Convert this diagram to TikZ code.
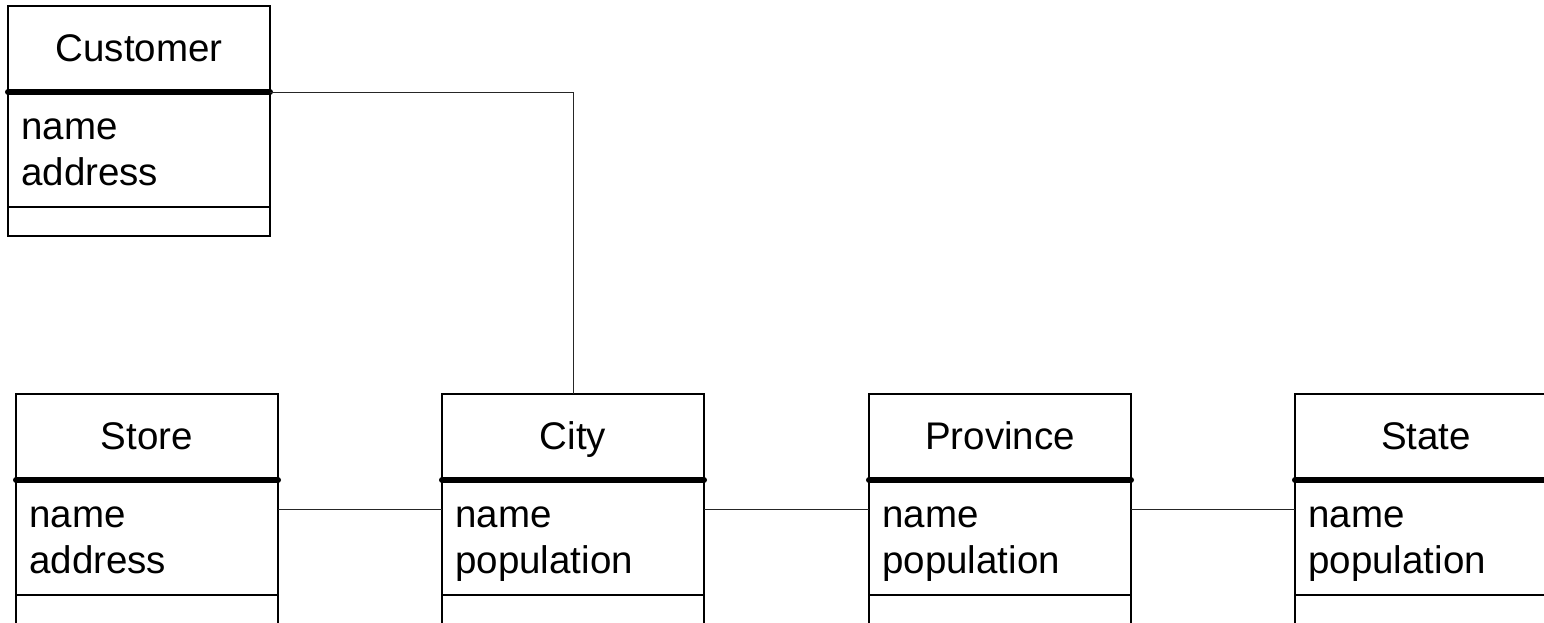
\documentclass[tikz,border=0pt]{standalone}
\usepackage{fontspec}
\setmainfont{Liberation Sans}
\begin{document}
\begin{tikzpicture}[x=1pt,y=-1pt,
  classbox/.style={draw=black, line width=2.2pt, minimum width=262pt, minimum height=230pt,
    inner sep=0pt, outer sep=0pt, anchor=north west},
  headrule/.style={line width=6pt, line cap=round},
  partrule/.style={line width=2.2pt},
  title/.style={anchor=base, inner sep=0pt, font=\fontsize{38.5}{46}\selectfont},
  attr/.style={anchor=base west, inner sep=0pt, font=\fontsize{38.5}{46}\selectfont},
  link/.style={line width=1pt, draw=black!85}]
\useasboundingbox (0,0) rectangle (1544,622);
\clip (0,0) rectangle (1544,622);

% one UML class: name, position of top-left corner, title, two attributes
\newcommand\umlclass[6]{%
  \node[classbox] (#1) at (#2,#3) {};
  \draw[headrule] ([yshift=-86pt]#1.north west) -- ([yshift=-86pt]#1.north east);
  \draw[partrule] ([yshift=-201pt]#1.north west) -- ([yshift=-201pt]#1.north east);
  \node[title] (#1-t) at ([yshift=-55pt]#1.north) {#4};
  \node[attr] (#1-a) at ([xshift=13pt,yshift=-133pt]#1.north west) {#5};
  \node[attr] (#1-b) at ([xshift=13pt,yshift=-179pt]#1.north west) {#6};
}

\umlclass{cust}{8}{6}{Customer}{name}{address}
\umlclass{store}{16}{394}{Store}{name}{address}
\umlclass{city}{442}{394}{City}{name}{population}
\umlclass{prov}{869}{394}{Province}{name}{population}
\umlclass{state}{1295}{394}{State}{name}{population}

% associations
\draw[link] ([yshift=-86pt]cust.north east) -| (city.north);
\draw[link] ([yshift=-115pt]store.north east) -- ([yshift=-115pt]city.north west);
\draw[link] ([yshift=-115pt]city.north east) -- ([yshift=-115pt]prov.north west);
\draw[link] ([yshift=-115pt]prov.north east) -- ([yshift=-115pt]state.north west);
\end{tikzpicture}
\end{document}
